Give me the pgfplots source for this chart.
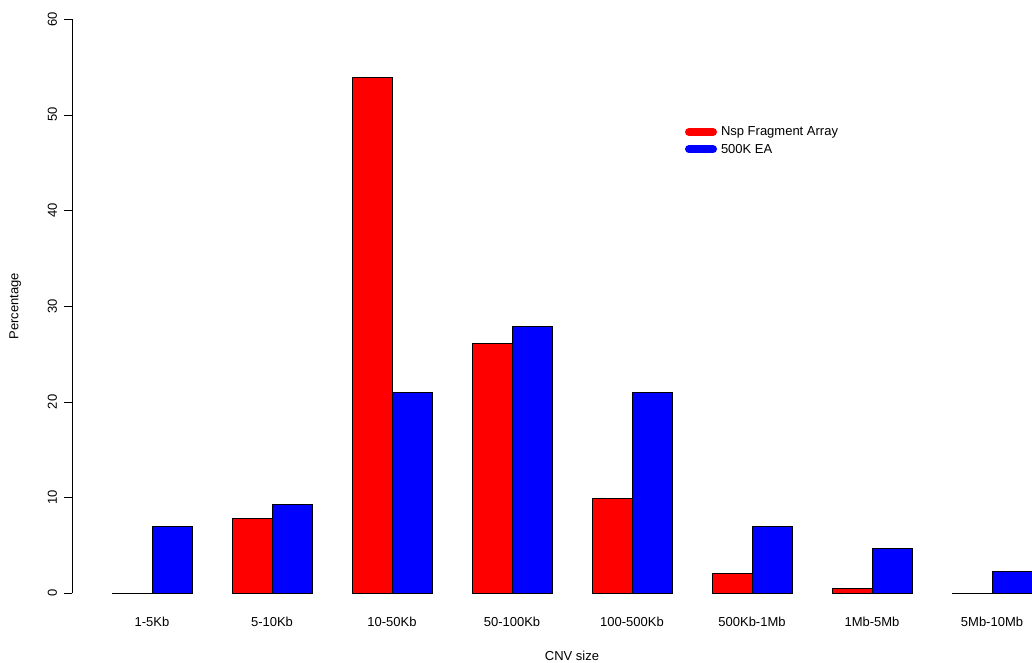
\documentclass[border=0pt]{standalone}
\usepackage{pgfplots}
\pgfplotsset{compat=1.18}
\usepackage{fontspec}
\setmainfont{Liberation Sans}
\begin{document}
\begin{tikzpicture}
\begin{axis}[name=ax,
  scale only axis, width=1032pt, height=662pt,
  xmin=-1.2667, xmax=7.3333, ymin=-7.18, ymax=61.99,
  axis lines=none, clip=false, ybar, bar width=0.3333,
  font=\fontsize{13}{15}\selectfont]
\addplot[fill=red, draw=black, bar shift=-0.16667] coordinates {(0,0) (1,7.8) (2,53.9) (3,26.1) (4,9.9) (5,2.1) (6,0.5) (7,0)};
\addplot[fill=blue, draw=black, bar shift=0.16667] coordinates {(0,7.0) (1,9.3) (2,21.0) (3,27.9) (4,21.0) (5,7.0) (6,4.7) (7,2.3)};
\draw (axis cs:-0.6667,0) -- (axis cs:-0.6667,60);
\pgfplotsinvokeforeach{0,10,20,30,40,50,60}{
  \draw (axis cs:-0.6667,#1) -- (axis cs:-0.7333,#1);
  \node[rotate=90, anchor=south, inner sep=0pt] at (axis cs:-0.79,#1) {#1};
}
\node at (axis cs:0,-3.0) {1-5Kb};
\node at (axis cs:1,-3.0) {5-10Kb};
\node at (axis cs:2,-3.0) {10-50Kb};
\node at (axis cs:3,-3.0) {50-100Kb};
\node at (axis cs:4,-3.0) {100-500Kb};
\node at (axis cs:5,-3.0) {500Kb-1Mb};
\node at (axis cs:6,-3.0) {1Mb-5Mb};
\node at (axis cs:7,-3.0) {5Mb-10Mb};
\node at (axis cs:3.5,-6.5) {CNV size};
\node[rotate=90] at (axis cs:-1.14,30) {Percentage};
\draw[red, line width=8pt, line cap=round] (axis cs:4.475,48.2) -- (axis cs:4.675,48.2);
\draw[blue, line width=8pt, line cap=round] (axis cs:4.475,46.4) -- (axis cs:4.675,46.4);
\node[anchor=west, inner sep=0pt] at (axis cs:4.74,48.2) {Nsp Fragment Array};
\node[anchor=west, inner sep=0pt] at (axis cs:4.74,46.4) {500K EA};
\end{axis}
\pgfresetboundingbox
\path[use as bounding box] (ax.south west) rectangle (ax.north east);
\end{tikzpicture}
\end{document}
